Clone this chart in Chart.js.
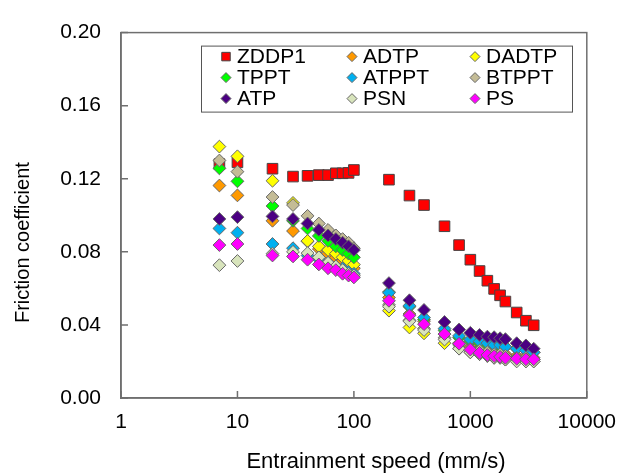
<!DOCTYPE html>
<html>
<head>
<meta charset="utf-8">
<script src="https://cdn.jsdelivr.net/npm/chart.js@4.4.1/dist/chart.umd.min.js"></script>
<style>
body{margin:0;background:#fff;}
</style>
</head>
<body>
<canvas id="grafik-friction" width="628" height="474"></canvas>
<script>
const speeds = [7,10,20,30,40,50,60,70,80,90,100,200,300,400,600,800,1000,1200,1400,1600,1800,2000,2500,3000,3500];

const zddp1 = [0.128,0.129,0.1255,0.1212,0.1216,0.122,0.122,0.123,0.123,0.1232,0.1248,0.1195,0.1108,0.1056,0.094,0.0837,0.0757,0.0695,0.0642,0.0597,0.0562,0.0528,0.0468,0.0423,0.0398];
const adtp  = [0.1163,0.1109,0.097,0.0914,0.0857,0.0816,0.079,0.077,0.075,0.073,0.071,0.055,0.046,0.042,0.035,0.030,0.028,0.027,0.026,0.025,0.025,0.024,0.023,0.023,0.022];
const dadtp = [0.1376,0.1323,0.1189,0.1068,0.086,0.083,0.081,0.079,0.077,0.075,0.073,0.0478,0.0386,0.0354,0.030,0.027,0.025,0.024,0.023,0.022,0.022,0.021,0.021,0.020,0.020];
const tppt  = [0.1257,0.1186,0.1051,0.097,0.0928,0.0887,0.086,0.083,0.081,0.079,0.077,0.058,0.050,0.043,0.037,0.033,0.031,0.030,0.029,0.029,0.028,0.028,0.027,0.026,0.025];
const atppt = [0.0928,0.0905,0.0843,0.082,0.078,0.076,0.074,0.072,0.071,0.069,0.068,0.0576,0.0505,0.044,0.038,0.034,0.032,0.031,0.030,0.029,0.029,0.028,0.027,0.026,0.025];
const btppt = [0.130,0.1239,0.110,0.1056,0.0997,0.0955,0.092,0.089,0.087,0.085,0.082,0.051,0.0425,0.038,0.033,0.029,0.027,0.026,0.025,0.024,0.024,0.023,0.022,0.022,0.021];
const atp   = [0.098,0.099,0.0994,0.098,0.0955,0.092,0.089,0.087,0.085,0.083,0.081,0.0629,0.0535,0.0482,0.0416,0.0375,0.0357,0.0345,0.0336,0.0333,0.0327,0.0322,0.030,0.0288,0.027];
const psn   = [0.0727,0.075,0.079,0.080,0.0793,0.077,0.074,0.072,0.070,0.068,0.067,0.050,0.042,0.0372,0.032,0.027,0.025,0.024,0.023,0.022,0.022,0.021,0.020,0.020,0.020];
const ps    = [0.0837,0.0843,0.078,0.0775,0.0757,0.0731,0.071,0.070,0.068,0.067,0.066,0.0532,0.0452,0.0404,0.035,0.0297,0.0265,0.0247,0.0235,0.0229,0.0225,0.022,0.0215,0.0212,0.0212];

const seriesNames = ['ZDDP1','ADTP','DADTP','TPPT','ATPPT','BTPPT','ATP','PSN','PS'];
const seriesData = [zddp1,adtp,dadtp,tppt,atppt,btppt,atp,psn,ps];
const seriesColors = ['#FF0000','#FF9900','#FFFF00','#00FF00','#00B0F0','#C4BC96','#4B0082','#D8E4BC','#FF00FF'];

const xTicks = [1,10,100,1000,10000];
const yTicks = [0,0.04,0.08,0.12,0.16,0.20];
const xTitle = 'Entrainment speed (mm/s)';
const yTitle = 'Friction coefficient';

const FONT = "'Liberation Sans', Arial, sans-serif";
const AXIS_COLOR = '#6f6f6f';

make_sets=()=>{
	return seriesNames.map((name,i)=>{
		const isSquare = i===0;
		return {
			label: name,
			data: speeds.map((s,j)=>({x:s,y:seriesData[i][j]})),
			showLine: false,
			pointStyle: isSquare ? 'rect' : 'rectRot',
			pointRadius: isSquare ? 7.5 : 6.4,
			pointBackgroundColor: seriesColors[i],
			pointBorderColor: isSquare ? '#444' : '#666',
			pointBorderWidth: 1,
			order: seriesNames.length - i
		};
	});
}

// frame, inward ticks, axis titles and the boxed 3-column legend
const framePlugin = {
	id: 'frame',
	afterDraw(chart){
		const ctx = chart.ctx;
		const a = chart.chartArea;
		const xs = chart.scales.x, ys = chart.scales.y;
		ctx.save();
		ctx.strokeStyle = AXIS_COLOR;
		ctx.lineWidth = 1.5;
		ctx.strokeRect(a.left, a.top, a.right-a.left, a.bottom-a.top);
		ctx.beginPath();
		ys.ticks.forEach(t=>{
			const p = ys.getPixelForValue(t.value);
			ctx.moveTo(a.left, p); ctx.lineTo(a.left+7, p);
		});
		xs.ticks.forEach(t=>{
			const p = xs.getPixelForValue(t.value);
			ctx.moveTo(p, a.bottom); ctx.lineTo(p, a.bottom-7);
		});
		ctx.stroke();

		// axis titles (sit a little off-centre in the original)
		ctx.fillStyle = '#000';
		ctx.textAlign = 'center';
		ctx.textBaseline = 'middle';
		ctx.font = '22px ' + FONT;
		ctx.fillText(xTitle, a.left+255, a.bottom+64);
		ctx.save();
		ctx.translate(23, a.top+210);
		ctx.rotate(-Math.PI/2);
		ctx.font = '20px ' + FONT;
		ctx.fillText(yTitle, 0, 0);
		ctx.restore();

		// legend
		const lx = a.left+80, ly = a.top+13, lw = 371, lh = 66;
		ctx.lineWidth = 1;
		ctx.strokeStyle = '#555';
		ctx.strokeRect(lx+0.5, ly+0.5, lw, lh);
		const colX = [lx+25, lx+151, lx+274];
		const rowY = [ly+11, ly+32, ly+53];
		ctx.font = '21px ' + FONT;
		ctx.textBaseline = 'middle';
		ctx.textAlign = 'left';
		chart.data.datasets.forEach((ds,i)=>{
			const cx = colX[i%3], cy = rowY[Math.floor(i/3)];
			ctx.fillStyle = ds.pointBackgroundColor;
			ctx.strokeStyle = ds.pointBorderColor;
			Chart.helpers.drawPoint(ctx, {
				pointStyle: ds.pointStyle,
				radius: i===0 ? 6 : 5,
				borderWidth: 1,
				rotation: 0
			}, cx, cy);
			ctx.fillStyle = '#000';
			ctx.fillText(ds.label, cx+11, cy+1);
		});
		ctx.restore();
	}
};

make_chart=()=>{
	const ctx = document.getElementById('grafik-friction');
	new Chart(ctx, {
		type: 'scatter',
		data: { datasets: make_sets() },
		plugins: [framePlugin],
		options: {
			responsive: false,
			animation: false,
			layout: { padding: { top: 23, right: 32, left: 0, bottom: 0 } },
			plugins: {
				legend: { display: false },
				tooltip: { enabled: false }
			},
			scales: {
				x: {
					type: 'logarithmic',
					min: 1,
					max: 10000,
					afterBuildTicks: (s)=>{ s.ticks = xTicks.map(v=>({value:v})); },
					afterFit: (s)=>{ s.height = 76; },
					grid: { display: false, drawTicks: false },
					border: { display: true, color: AXIS_COLOR, width: 1.5 },
					ticks: {
						padding: 12,
						color: '#000',
						font: { family: FONT, size: 21 },
						maxRotation: 0,
						autoSkip: false,
						callback: (v)=> String(v)
					}
				},
				y: {
					min: 0,
					max: 0.2,
					afterBuildTicks: (s)=>{ s.ticks = yTicks.map(v=>({value:v})); },
					afterFit: (s)=>{ s.width = 121; },
					grid: { display: false, drawTicks: false },
					border: { display: true, color: AXIS_COLOR, width: 1.5 },
					ticks: {
						padding: 20,
						color: '#000',
						font: { family: FONT, size: 21 },
						callback: (v)=> Number(v).toFixed(2)
					}
				}
			}
		}
	});
}

make_chart();
</script>
</body>
</html>
